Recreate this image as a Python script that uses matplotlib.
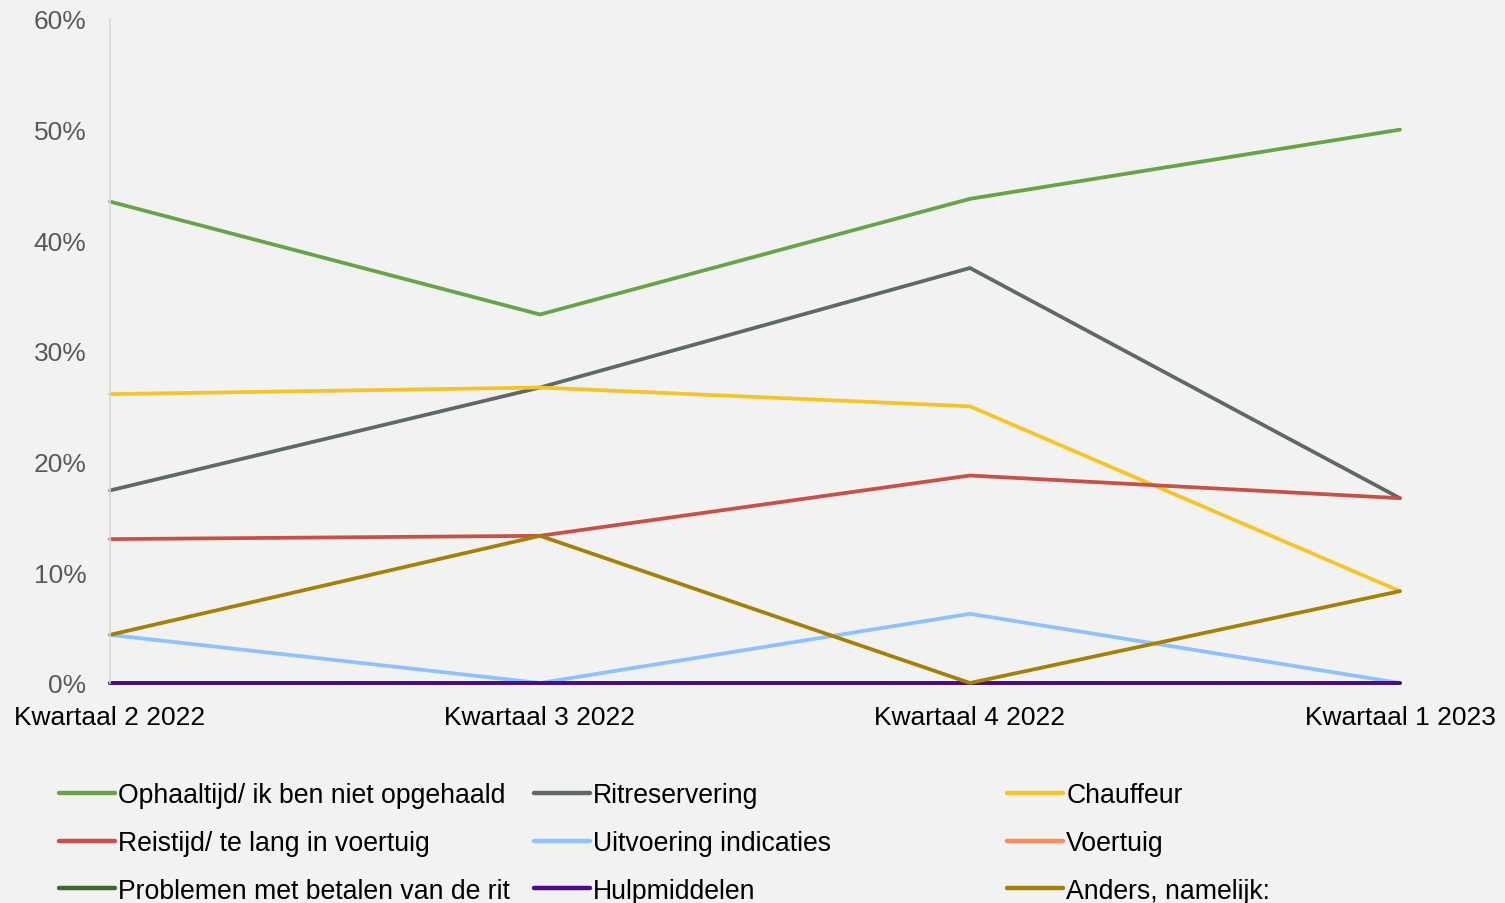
import matplotlib
matplotlib.use('Agg')
import matplotlib.pyplot as plt
from matplotlib.ticker import PercentFormatter

plt.rcParams['font.family'] = ['Liberation Sans', 'DejaVu Sans']

# data
quarters = ['Kwartaal 2 2022', 'Kwartaal 3 2022', 'Kwartaal 4 2022', 'Kwartaal 1 2023']
ophaaltijd = [43.5, 33.3, 43.75, 50.0]
ritreservering = [17.4, 26.7, 37.5, 16.7]
chauffeur = [26.1, 26.7, 25.0, 8.3]
reistijd = [13.0, 13.3, 18.75, 16.7]
uitvoering = [4.35, 0.0, 6.25, 0.0]
voertuig = [0.0, 0.0, 0.0, 0.0]
problemen = [0.0, 0.0, 0.0, 0.0]
hulpmiddelen = [0.0, 0.0, 0.0, 0.0]
anders = [4.35, 13.3, 0.0, 8.3]

series = [
    ('Ophaaltijd/ ik ben niet opgehaald', ophaaltijd, '#66A444'),
    ('Ritreservering', ritreservering, '#5E6866'),
    ('Chauffeur', chauffeur, '#F6C425'),
    ('Reistijd/ te lang in voertuig', reistijd, '#C94F47'),
    ('Uitvoering indicaties', uitvoering, '#8DC1FF'),
    ('Voertuig', voertuig, '#FF8A5B'),
    ('Problemen met betalen van de rit', problemen, '#3E6B2C'),
    ('Hulpmiddelen', hulpmiddelen, '#4A0A8A'),
    ('Anders, namelijk:', anders, '#A67F05'),
]

bg = '#F2F2F2'
fig = plt.figure(figsize=(15.05, 9.04), dpi=100, facecolor=bg)
ax = fig.add_axes([110/1505, 1-684/904, 1290/1505, 664/904])
ax.set_facecolor(bg)

x = list(range(len(quarters)))
handles = []
for name, vals, col in series:
    h, = ax.plot(x, vals, color=col, lw=2.7, label=name, clip_on=False,
                 solid_capstyle='round')
    handles.append(h)

ax.set_xlim(0, 3)
ax.set_ylim(0, 60)
ax.set_yticks(range(0, 61, 10))
ax.yaxis.set_major_formatter(PercentFormatter(decimals=0))
ax.set_xticks(x)
ax.set_xticklabels(quarters)
ax.tick_params(axis='y', length=0, pad=17, labelsize=19, labelcolor='#595959')
ax.tick_params(axis='x', length=0, pad=15.5, labelsize=19, labelcolor='black')

for s in ['top', 'right', 'bottom']:
    ax.spines[s].set_visible(False)
ax.spines['left'].set_color('#D9D9D9')
ax.spines['left'].set_linewidth(1.2)

# legend: three columns, filled row by row
col_x = [59, 534, 1007]
for c in range(3):
    hs = [handles[c], handles[c + 3], handles[c + 6]]
    leg = fig.legend(hs, [h.get_label() for h in hs], loc='upper left',
                     bbox_to_anchor=(col_x[c]/1505, 1-783/904), frameon=False,
                     fontsize=19.2, handlelength=2.1, handletextpad=0.12,
                     labelspacing=0.82, borderpad=0, borderaxespad=0)
    for lh in leg.get_lines():
        lh.set_linewidth(3.2)
    for t in leg.get_texts():
        t.set_color('black')

fig.savefig('out.png', dpi=100, facecolor=bg)
